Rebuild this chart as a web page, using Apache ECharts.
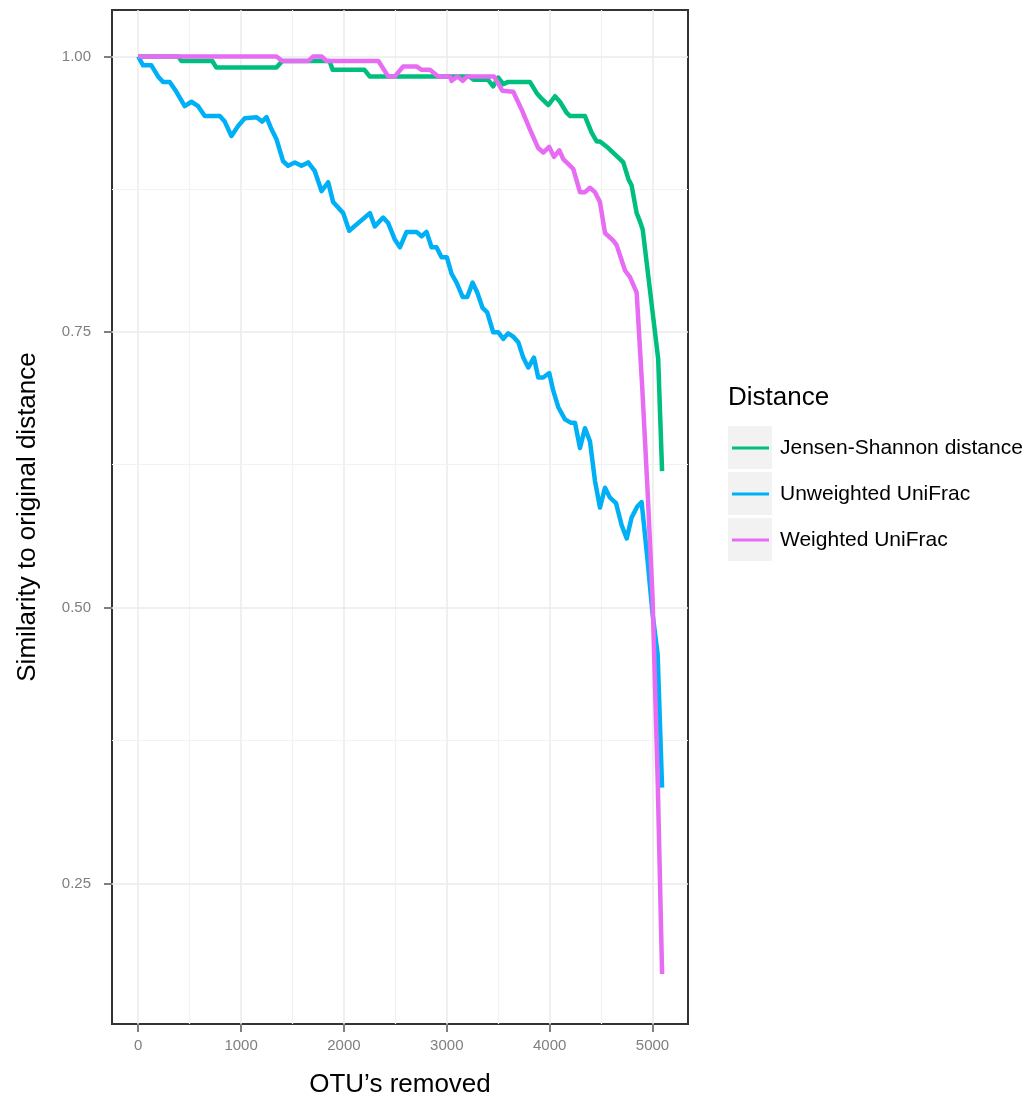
<!DOCTYPE html>
<html>
<head>
<meta charset="utf-8">
<script src="https://cdn.jsdelivr.net/npm/echarts@6/dist/echarts.min.js"></script>
<style>
html,body{margin:0;padding:0;background:#fff;}
#chart{width:1029px;height:1103px;}
</style>
</head>
<body>
<div id="chart"></div>
<script>
// ---- Data ----
const seriesNames = ['Jensen-Shannon distance', 'Unweighted UniFrac', 'Weighted UniFrac'];

const jsX = [0, 390, 420, 720, 760, 1344, 1400, 1860, 1890, 2200, 2250, 3220, 3260, 3400, 3451, 3500, 3549, 3597, 3808, 3873, 3920, 3987, 4052, 4100, 4165, 4200, 4343, 4408, 4457, 4490, 4570, 4684, 4716, 4765, 4797, 4846, 4880, 4905, 5055, 5093];
const jsY = [1.000, 1.000, 0.996, 0.996, 0.990, 0.990, 0.996, 0.996, 0.988, 0.988, 0.982, 0.982, 0.979, 0.979, 0.973, 0.981, 0.975, 0.977, 0.977, 0.967, 0.962, 0.956, 0.964, 0.959, 0.949, 0.946, 0.946, 0.931, 0.923, 0.923, 0.917, 0.907, 0.904, 0.889, 0.883, 0.858, 0.850, 0.843, 0.726, 0.624];

const uwX = [0, 47, 128, 193, 241, 306, 371, 452, 517, 582, 647, 793, 841, 906, 971, 1036, 1150, 1204, 1247, 1296, 1344, 1409, 1457, 1522, 1587, 1652, 1717, 1782, 1847, 1895, 1993, 2051, 2252, 2300, 2381, 2430, 2495, 2544, 2609, 2706, 2755, 2803, 2852, 2900, 2949, 3000, 3047, 3095, 3154, 3199, 3251, 3296, 3348, 3393, 3451, 3500, 3549, 3597, 3646, 3695, 3743, 3792, 3847, 3889, 3938, 3996, 4035, 4084, 4149, 4204, 4246, 4295, 4343, 4392, 4441, 4489, 4538, 4587, 4645, 4700, 4749, 4797, 4852, 4894, 4950, 5000, 5050, 5093];
const uwY = [1.000, 0.992, 0.992, 0.982, 0.977, 0.977, 0.968, 0.955, 0.959, 0.955, 0.946, 0.946, 0.941, 0.928, 0.937, 0.944, 0.945, 0.941, 0.945, 0.934, 0.925, 0.905, 0.901, 0.904, 0.901, 0.904, 0.896, 0.878, 0.886, 0.868, 0.858, 0.842, 0.858, 0.846, 0.854, 0.849, 0.834, 0.827, 0.841, 0.841, 0.837, 0.841, 0.827, 0.827, 0.818, 0.818, 0.803, 0.795, 0.782, 0.782, 0.795, 0.786, 0.772, 0.768, 0.750, 0.750, 0.744, 0.749, 0.746, 0.741, 0.727, 0.718, 0.727, 0.709, 0.709, 0.713, 0.697, 0.682, 0.671, 0.668, 0.668, 0.645, 0.663, 0.651, 0.615, 0.591, 0.609, 0.600, 0.595, 0.575, 0.563, 0.582, 0.592, 0.596, 0.545, 0.495, 0.458, 0.337];

const wX = [0, 1344, 1400, 1655, 1700, 1785, 1830, 2335, 2430, 2495, 2576, 2706, 2755, 2836, 2917, 3030, 3047, 3102, 3154, 3199, 3458, 3540, 3646, 3727, 3808, 3889, 3938, 3996, 4042, 4094, 4132, 4230, 4295, 4343, 4392, 4441, 4489, 4538, 4619, 4651, 4733, 4781, 4846, 4900, 4950, 5000, 5050, 5093];
const wY = [1.000, 1.000, 0.996, 0.996, 1.000, 1.000, 0.996, 0.996, 0.982, 0.982, 0.991, 0.991, 0.988, 0.988, 0.982, 0.982, 0.978, 0.982, 0.978, 0.982, 0.982, 0.969, 0.968, 0.952, 0.934, 0.917, 0.913, 0.918, 0.909, 0.915, 0.907, 0.898, 0.877, 0.877, 0.881, 0.877, 0.868, 0.840, 0.833, 0.829, 0.806, 0.800, 0.786, 0.700, 0.610, 0.510, 0.345, 0.168];

const xTickValues = [0, 1000, 2000, 3000, 4000, 5000];
const xMinorValues = [500, 1500, 2500, 3500, 4500];
const yTickValues = [0.25, 0.50, 0.75, 1.00];
const yMinorValues = [0.375, 0.625, 0.875];

const colors = ['#00BF7D', '#00B0F6', '#E76BF3'];
const FONT = '"Liberation Sans", Arial, Helvetica, sans-serif';

function pairs(xs, ys) { return xs.map((x, i) => [x, ys[i]]); }

const gridLines = []
  .concat(xTickValues.map(v => ({ xAxis: v, lineStyle: { color: '#ebebeb', width: 1.5, type: 'solid' } })))
  .concat(xMinorValues.map(v => ({ xAxis: v, lineStyle: { color: '#f2f2f2', width: 1.2, type: 'solid' } })))
  .concat(yTickValues.map(v => ({ yAxis: v, lineStyle: { color: '#ebebeb', width: 1.5, type: 'solid' } })))
  .concat(yMinorValues.map(v => ({ yAxis: v, lineStyle: { color: '#f2f2f2', width: 1.2, type: 'solid' } })));

const chart = echarts.init(document.getElementById('chart'), null, { renderer: 'canvas' });

const lineSeries = [pairs(jsX, jsY), pairs(uwX, uwY), pairs(wX, wY)].map((d, i) => ({
  name: seriesNames[i],
  type: 'line',
  data: d,
  color: colors[i],
  showSymbol: false,
  symbol: 'none',
  z: 3 + i,
  lineStyle: { width: 4.5, color: colors[i], join: 'round', cap: 'butt' },
  emphasis: { disabled: true },
  animation: false
}));

const option = {
  animation: false,
  backgroundColor: '#ffffff',
  textStyle: { fontFamily: FONT },
  grid: {
    left: 112, right: 341, top: 10, bottom: 74,
    show: true, borderColor: '#333333', borderWidth: 2, backgroundColor: '#ffffff'
  },
  xAxis: {
    type: 'value', min: -255, max: 5345,
    name: 'OTU\u2019s removed', nameLocation: 'middle', nameGap: 48,
    nameTextStyle: { fontSize: 26, color: '#000', fontFamily: FONT },
    axisLine: { show: false, onZero: false },
    splitLine: { show: false },
    axisTick: { show: true, length: 8, lineStyle: { color: '#7f7f7f', width: 2 }, customValues: xTickValues },
    axisLabel: { customValues: xTickValues, fontSize: 15, color: '#7f7f7f', margin: 14, fontFamily: FONT,
      formatter: v => String(Math.round(v)) }
  },
  yAxis: {
    type: 'value', min: 0.1227, max: 1.0422,
    name: 'Similarity to original distance', nameLocation: 'middle', nameGap: 71,
    nameTextStyle: { fontSize: 26, color: '#000', fontFamily: FONT },
    axisLine: { show: false, onZero: false },
    splitLine: { show: false },
    axisTick: { show: true, length: 8, lineStyle: { color: '#7f7f7f', width: 2 }, customValues: yTickValues },
    axisLabel: { customValues: yTickValues, fontSize: 15, color: '#7f7f7f', margin: 21, fontFamily: FONT,
      formatter: v => Number(v).toFixed(2) }
  },
  legend: {
    orient: 'vertical', left: 732, top: 425,
    itemWidth: 37, itemHeight: 3, itemGap: 0, icon: 'rect', padding: 0,
    selectedMode: false,
    data: seriesNames,
    textStyle: { fontSize: 21, lineHeight: 46, color: '#000', fontFamily: FONT, padding: [0, 0, 0, 6] }
  },
  graphic: [
    { type: 'text', left: 728, top: 385, style: { text: 'Distance', font: '26px ' + FONT, fill: '#000' } },
    { type: 'rect', shape: { x: 728, y: 426, width: 44, height: 43 }, style: { fill: '#f2f2f2' }, z: -1 },
    { type: 'rect', shape: { x: 728, y: 472, width: 44, height: 43 }, style: { fill: '#f2f2f2' }, z: -1 },
    { type: 'rect', shape: { x: 728, y: 518, width: 44, height: 43 }, style: { fill: '#f2f2f2' }, z: -1 }
  ],
  series: [{
    name: '__grid', type: 'line', data: [], z: 1, silent: true,
    markLine: { z: 1, silent: true, symbol: ['none', 'none'], label: { show: false }, animation: false, data: gridLines }
  }].concat(lineSeries)
};

chart.setOption(option);
</script>
</body>
</html>
